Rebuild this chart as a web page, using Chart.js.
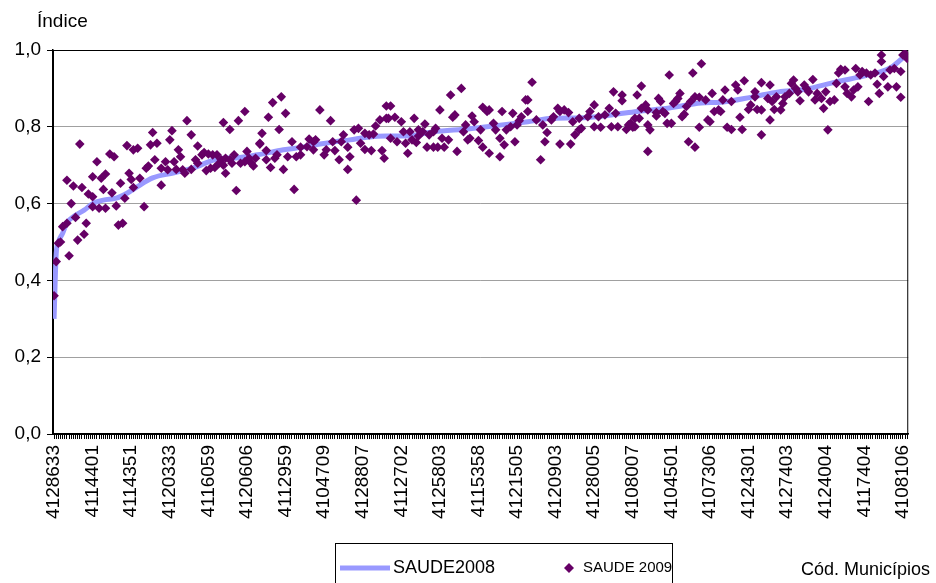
<!DOCTYPE html>
<html>
<head>
<meta charset="utf-8">
<script src="https://cdn.jsdelivr.net/npm/chart.js@4"></script>
<style>
  html, body { margin: 0; padding: 0; background: #fff; }
  #wrap { position: relative; width: 936px; height: 583px; }
</style>
</head>
<body>
<div id="wrap"><canvas id="chart" width="936" height="583"></canvas></div>
<script>
// municipalities ordered by the 2008 index; one code labelled every 18 positions
const nMunicipios = 399;
const labelStep = 18;
const tickLabels = [
  "4128633", "4114401", "4114351", "4120333", "4116059", "4120606", "4112959", "4104709",
  "4128807", "4112702", "4125803", "4115358", "4121505", "4120903", "4128005", "4108007",
  "4104501", "4107306", "4124301", "4127403", "4124004", "4117404", "4108106"
];

// SAUDE2008 curve, read at positions along the ranking
const rank2008 = [1, 2, 3, 5, 7, 10, 15, 19, 24, 30, 35, 39, 47, 57, 66, 78, 86, 96, 108, 117,
  122, 132, 139, 147, 156, 165, 178, 195, 210, 222, 234, 246, 261, 273, 288, 303, 312, 327,
  339, 351, 366, 381, 391, 397, 399];
const saude2008 = [0.30, 0.47, 0.50, 0.523, 0.55, 0.566, 0.583, 0.60, 0.609, 0.614, 0.627, 0.641,
  0.667, 0.68, 0.693, 0.717, 0.719, 0.727, 0.74, 0.747, 0.752, 0.761, 0.766, 0.773, 0.776, 0.776,
  0.787, 0.795, 0.805, 0.813, 0.822, 0.823, 0.831, 0.84, 0.849, 0.862, 0.864, 0.878, 0.891, 0.897,
  0.917, 0.935, 0.953, 0.979, 0.987];

// SAUDE 2009 points: [position in 2008 ranking, index]
const pontos2009 = [
  [1,0.36],[2,0.449],[3,0.497],[4,0.50],[5,0.54],[7,0.549],[8,0.464],[7,0.661],[10,0.646],[9,0.60],
  [11,0.564],[13,0.755],[12,0.505],[15,0.52],[16,0.549],[14,0.642],[17,0.625],[19,0.592],[19,0.618],[19,0.67],
  [21,0.709],[23,0.666],[22,0.588],[24,0.637],[25,0.588],[25,0.677],[27,0.729],[29,0.722],[28,0.628],[30,0.594],
  [31,0.544],[33,0.549],[32,0.653],[35,0.751],[36,0.679],[37,0.663],[34,0.614],[38,0.74],[38,0.642],
  [40,0.744],[41,0.666],[43,0.592],[44,0.692],[45,0.698],[46,0.753],[47,0.785],[48,0.714],[49,0.757],[51,0.692],
  [51,0.648],[53,0.709],[54,0.688],[55,0.766],[56,0.79],[57,0.709],[58,0.689],[59,0.74],[60,0.722],[61,0.688],
  [62,0.679],[63,0.816],[65,0.779],[65,0.689],[67,0.714],[68,0.75],[68,0.705],[70,0.727],[71,0.733],[72,0.686],
  [73,0.729],[74,0.692],[75,0.727],[76,0.694],[78,0.705],
  [77,0.727],[79,0.714],[80,0.811],[80,0.70],[81,0.718],[81,0.679],[83,0.793],[83,0.714],[84,0.705],[85,0.727],
  [86,0.634],[87,0.816],[88,0.705],[90,0.709],[90,0.84],[91,0.736],[92,0.718],[93,0.705],[94,0.698],[95,0.718],
  [97,0.755],[97,0.757],[98,0.783],[100,0.714],[100,0.738],[101,0.825],[102,0.694],[103,0.863],[104,0.718],[105,0.727],
  [106,0.793],[107,0.878],[108,0.689],[109,0.835],[110,0.722],[112,0.761],[113,0.637],[114,0.722],[116,0.727],
  [116,0.747],[119,0.748],[120,0.768],[122,0.761],[123,0.766],[122,0.74],[125,0.844],[127,0.727],[128,0.74],[130,0.816],
  [131,0.761],[132,0.738],[134,0.714],[135,0.761],[136,0.779],[138,0.747],[138,0.689],[139,0.722],[141,0.792],[142,0.609],
  [143,0.796],[144,0.757],[146,0.783],[146,0.741],[148,0.779],[149,0.738],[150,0.781],[151,0.802],[153,0.818],[154,0.738],
  [155,0.718],[156,0.822],[156,0.854],
  [158,0.854],[157,0.822],[160,0.825],[158,0.77],[161,0.761],[163,0.813],[164,0.787],[165,0.757],[166,0.731],[167,0.787],
  [168,0.766],[169,0.822],[170,0.759],[171,0.776],[171,0.792],[173,0.787],[174,0.807],[175,0.747],[176,0.779],[178,0.747],
  [178,0.787],[179,0.796],[181,0.844],[180,0.747],[182,0.77],[183,0.747],[185,0.766],[186,0.883],[187,0.825],[188,0.831],
  [189,0.736],[191,0.90],[192,0.787],[193,0.805],[194,0.766],
  [196,0.828],[197,0.813],[195,0.77],[199,0.764],[200,0.792],[201,0.851],[203,0.84],[204,0.844],[201,0.747],[204,0.731],
  [206,0.809],[207,0.792],[209,0.77],[209,0.722],[210,0.84],[211,0.753],[212,0.792],[214,0.80],[215,0.835],[216,0.761],
  [217,0.805],[218,0.816],[219,0.826],[221,0.87],[222,0.87],[222,0.84],[224,0.916],[226,0.818],[228,0.714],[229,0.805],
  [231,0.785],[230,0.761],[233,0.818],
  [236,0.848],[237,0.84],[239,0.844],[241,0.837],[234,0.826],[243,0.813],[237,0.755],[242,0.755],[244,0.779],[246,0.792],
  [247,0.796],[246,0.822],[250,0.826],[251,0.84],[253,0.857],[253,0.80],[255,0.826],[256,0.799],[258,0.831],[260,0.848],
  [261,0.80],[262,0.891],[263,0.835],[264,0.80],[266,0.883],[266,0.868],[268,0.793],[269,0.805],[270,0.809],[271,0.799],
  [272,0.822],[273,0.883],
  [275,0.906],[274,0.822],[275,0.848],[277,0.857],[278,0.844],[272,0.80],[278,0.805],[279,0.792],[278,0.736],[282,0.837],
  [282,0.828],[283,0.874],[284,0.866],[285,0.84],[286,0.835],[287,0.809],[288,0.935],[289,0.809],[290,0.861],[291,0.866],
  [292,0.874],[293,0.887],[294,0.826],[295,0.833],[296,0.853],[297,0.761],[298,0.866],[299,0.94],[300,0.747],[300,0.878],
  [302,0.877],[303,0.964],[302,0.799],[305,0.87],[306,0.818],[307,0.813],[308,0.887],[309,0.84],[311,0.844],
  [314,0.896],[313,0.87],[312,0.84],[315,0.799],[317,0.793],[317,0.866],[319,0.909],[320,0.896],[321,0.825],[322,0.793],
  [323,0.92],[325,0.845],[326,0.857],[328,0.891],[328,0.878],[329,0.845],[331,0.844],[331,0.779],[331,0.915],[334,0.874],
  [335,0.818],[335,0.909],[336,0.866],[337,0.845],[338,0.878],[340,0.844],[341,0.861],[342,0.878],[344,0.887],[345,0.913],
  [346,0.922],[347,0.90],[348,0.891],[349,0.868],[351,0.909],
  [352,0.90],[355,0.923],[353,0.891],[356,0.87],[357,0.887],[359,0.874],[360,0.848],[361,0.891],[362,0.792],[363,0.866],
  [365,0.87],[366,0.913],[367,0.94],[368,0.95],[370,0.948],[370,0.904],[371,0.887],[373,0.878],[374,0.896],[375,0.952],
  [376,0.904],[377,0.935],[378,0.944],[380,0.94],[381,0.866],[382,0.935],[384,0.94],[385,0.911],[386,0.887],[387,0.987],
  [387,0.97],[388,0.931],[390,0.904],[391,0.948],[393,0.952],[394,0.904],[396,0.877],[396,0.944],[398,0.991],[399,0.978],
  [397,0.987]
];

const fonte = "'Liberation Sans', Arial, sans-serif";
const corLinha = "#9999ff";
const corPonto = "#660066";
Chart.defaults.font.family = fonte;
Chart.defaults.color = "#000";

// plot frame, axis captions and the boxed legend
const extras = {
  id: "extras",
  beforeDatasetsDraw(chart) {
    const { ctx, chartArea: a } = chart;
    ctx.save();
    ctx.strokeStyle = "#000";
    ctx.lineWidth = 1;
    ctx.strokeRect(a.left + 0.5, a.top + 0.5, a.right - a.left - 1, a.bottom - a.top);
    ctx.restore();
  },
  afterDraw(chart) {
    const { ctx } = chart;
    const ds = chart.data.datasets;
    ctx.save();
    ctx.fillStyle = "#000";
    ctx.textBaseline = "middle";
    ctx.font = "19px " + fonte;
    ctx.fillText("Índice", 37, 22);
    ctx.textAlign = "right";
    ctx.font = "18px " + fonte;
    ctx.fillText("Cód. Municípios", 930, 570);

    ctx.textAlign = "left";
    ctx.strokeStyle = "#000";
    ctx.lineWidth = 1;
    ctx.strokeRect(335.5, 543.5, 337, 50);
    ctx.strokeStyle = corLinha;
    ctx.lineWidth = 5;
    ctx.beginPath();
    ctx.moveTo(340, 568);
    ctx.lineTo(390, 568);
    ctx.stroke();
    ctx.fillStyle = "#000";
    ctx.font = "18px " + fonte;
    ctx.fillText(ds[1].label, 393, 568);
    ctx.fillStyle = corPonto;
    ctx.beginPath();
    ctx.moveTo(569, 563);
    ctx.lineTo(574, 568);
    ctx.lineTo(569, 573);
    ctx.lineTo(564, 568);
    ctx.closePath();
    ctx.fill();
    ctx.fillStyle = "#000";
    ctx.font = "15px " + fonte;
    ctx.fillText(ds[0].label, 583, 568);
    ctx.restore();
  }
};

new Chart(document.getElementById("chart"), {
  type: "scatter",
  data: {
    datasets: [
      {
        label: "SAUDE 2009",
        data: pontos2009.map(([x, y]) => ({ x, y })),
        pointStyle: "rectRot",
        pointRadius: 4.8,
        backgroundColor: corPonto,
        borderColor: corPonto,
        borderWidth: 0,
        order: 0
      },
      {
        label: "SAUDE2008",
        type: "line",
        data: rank2008.map((x, i) => ({ x, y: saude2008[i] })),
        borderColor: corLinha,
        borderWidth: 5,
        pointRadius: 0,
        cubicInterpolationMode: "monotone",
        order: 1
      }
    ]
  },
  options: {
    responsive: false,
    animation: false,
    devicePixelRatio: 1,
    layout: { padding: { top: 50, right: 24, left: 0, bottom: 0 } },
    plugins: { legend: { display: false }, tooltip: { enabled: false } },
    scales: {
      x: {
        type: "linear",
        min: 0.5,
        max: nMunicipios + 0.5,
        afterBuildTicks: s => {
          s.ticks = Array.from({ length: nMunicipios }, (_, i) => ({ value: i + 1 }));
        },
        afterFit: s => { s.height = 149; },
        ticks: {
          autoSkip: false,
          minRotation: 90,
          maxRotation: 90,
          padding: 6,
          font: { size: 19 },
          callback: v => ((v - 1) % labelStep === 0 ? tickLabels[(v - 1) / labelStep] : "")
        },
        grid: { drawOnChartArea: false, tickLength: 5, tickColor: "#000" },
        border: { color: "#000", width: 1.5 }
      },
      y: {
        min: 0,
        max: 1,
        afterFit: s => { s.width = 53; },
        ticks: {
          stepSize: 0.2,
          padding: 6,
          font: { size: 19 },
          callback: v => v.toFixed(1).replace(".", ",")
        },
        grid: { color: "#a0a0a0", tickLength: 6, tickColor: "#000" },
        border: { color: "#000", width: 1.5 }
      }
    }
  },
  plugins: [extras]
});
</script>
</body>
</html>
